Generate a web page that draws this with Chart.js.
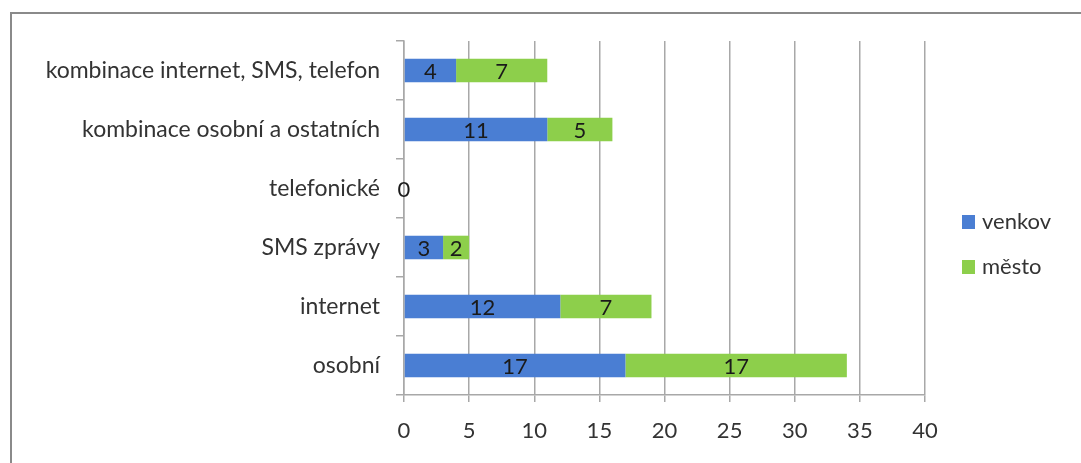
<!DOCTYPE html>
<html>
<head>
<meta charset="utf-8">
<script src="https://cdn.jsdelivr.net/npm/chart.js@4"></script>
<style>
  body { margin: 0; background: #fff; }
  #wrap { position: relative; width: 1081px; height: 463px; }
  #frame { position: absolute; left: 10px; top: 12px; right: -5px; bottom: -5px;
           border-top: 2px solid #8a8a8a; border-left: 2px solid #8a8a8a; }
  canvas { position: absolute; left: 0; top: 0; }
</style>
</head>
<body>
<div id="wrap">
  <div id="frame"></div>
  <canvas id="chart" width="1081" height="463"></canvas>
</div>
<script>
// kategorie od shora dolů
const categories = ['kombinace internet, SMS, telefon', 'kombinace osobní a ostatních', 'telefonické', 'SMS zprávy', 'internet', 'osobní'];
const venkov = [4, 11, 0, 3, 12, 17];
const mesto = [7, 5, 0, 2, 7, 17];
const xTicks = [0, 5, 10, 15, 20, 25, 30, 35, 40];

const fontName = 'Lato, "Open Sans", sans-serif';

// popisky hodnot uprostred segmentu
const barLabels = {
    id: 'barLabels',
    afterDatasetsDraw(chart) {
        const ctx = chart.ctx;
        ctx.save();
        ctx.font = '22px ' + fontName;
        ctx.fillStyle = '#1a1a1a';
        ctx.textAlign = 'center';
        ctx.textBaseline = 'middle';
        chart.data.datasets.forEach(function(ds, i) {
            chart.getDatasetMeta(i).data.forEach(function(bar, j) {
                const v = ds.data[j];
                if (v === 0 && i > 0) return;
                const cx = (bar.x + bar.base) / 2;
                ctx.fillText(String(v), cx, bar.y + 1);
            });
        });
        ctx.restore();
    }
};

// legenda vpravo
const sideLegend = {
    id: 'sideLegend',
    afterDraw(chart) {
        const ctx = chart.ctx;
        ctx.save();
        ctx.font = '22px ' + fontName;
        ctx.textBaseline = 'middle';
        chart.data.datasets.forEach(function(ds, i) {
            const y = 222 + i * 45;
            ctx.fillStyle = ds.backgroundColor;
            ctx.fillRect(962, y - 7, 13, 14);
            ctx.fillStyle = '#333';
            ctx.fillText(ds.label, 982, y);
        });
        ctx.restore();
    }
};

const ctx = document.getElementById('chart').getContext('2d');
new Chart(ctx, {
    type: 'bar',
    data: {
        labels: categories,
        datasets: [
            { label: 'venkov', data: venkov, backgroundColor: '#4a7ed3', borderWidth: 0 },
            { label: 'město', data: mesto, backgroundColor: '#8dcf4b', borderWidth: 0 }
        ]
    },
    options: {
        indexAxis: 'y',
        responsive: false,
        animation: false,
        devicePixelRatio: 1,
        categoryPercentage: 1,
        barPercentage: 0.4,
        layout: { padding: { left: 0, right: 156, top: 41, bottom: 0 } },
        scales: {
            x: {
                stacked: true,
                min: 0,
                max: 40,
                afterBuildTicks: function(axis) {
                    axis.ticks = xTicks.map(function(v) { return { value: v }; });
                },
                grid: { color: '#a8a8a8', lineWidth: 1.5, tickLength: 7 },
                border: { color: '#a8a8a8', width: 1.5 },
                ticks: { color: '#333', padding: 16, font: { family: fontName, size: 22 } },
                afterFit: function(axis) { axis.height = 68; }
            },
            y: {
                stacked: true,
                grid: { offset: true, drawOnChartArea: false, color: '#a8a8a8', lineWidth: 1.5, tickLength: 8 },
                border: { color: '#a8a8a8', width: 1.5 },
                ticks: { color: '#333', padding: 16, font: { family: fontName, size: 23 } },
                afterFit: function(axis) { axis.width = 404; }
            }
        },
        plugins: {
            legend: { display: false },
            tooltip: { enabled: false }
        }
    },
    plugins: [barLabels, sideLegend]
});
</script>
</body>
</html>
